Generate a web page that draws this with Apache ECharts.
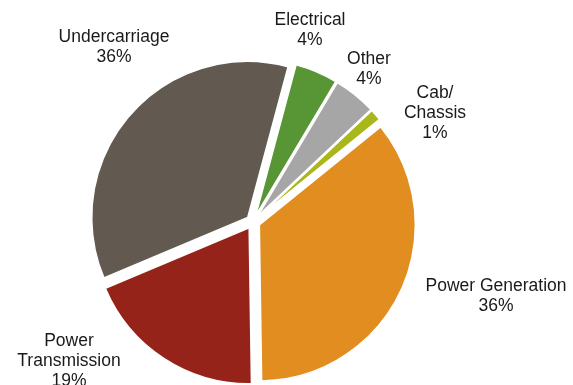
<!DOCTYPE html>
<html>
<head>
<meta charset="utf-8">
<script src="https://cdn.jsdelivr.net/npm/echarts@6/dist/echarts.min.js"></script>
<style>
html,body{margin:0;padding:0;background:#fff;}
#chart{width:573px;height:385px;}
</style>
</head>
<body>
<div id="chart"></div>
<script>
// Data (clockwise from just right of 12 o'clock)
const categories = ['Electrical', 'Other', 'Cab/Chassis', 'Power Generation', 'Power Transmission', 'Undercarriage'];
const labelTexts = ['Electrical', 'Other', 'Cab/\nChassis', 'Power Generation', 'Power\nTransmission', 'Undercarriage'];
const shares = [4.4, 4.4, 1.2, 35.6, 18.9, 35.5];

// Styles / layout
const colors = ['#579535', '#A6A6A6', '#A9B71A', '#E18D1F', '#952319', '#625A50'];
const labelPos = [[310, 30], [369, 69], [435, 113], [496, 296], [69, 361], [114, 47]];

const chart = echarts.init(document.getElementById('chart'), null, {renderer: 'canvas'});
const labelGraphics = categories.map(function (c, i) {
  return {
    type: 'text',
    x: labelPos[i][0],
    y: labelPos[i][1],
    silent: true,
    style: {
      text: labelTexts[i] + '\n' + Math.round(shares[i]) + '%',
      fontFamily: 'Liberation Sans, Arial, sans-serif',
      fontSize: 17.5,
      lineHeight: 20,
      fill: '#1a1a1a',
      align: 'center',
      verticalAlign: 'middle'
    }
  };
});
chart.setOption({
  animation: false,
  graphic: labelGraphics,
  series: [{
    type: 'pie',
    center: [253, 222],
    radius: 156,
    startAngle: 75,
    clockwise: true,
    avoidLabelOverlap: false,
    selectedMode: 'multiple',
    selectedOffset: 7,
    emphasis: {disabled: true},
    itemStyle: {borderColor: '#ffffff', borderWidth: 1.5},
    label: {show: false},
    labelLine: {show: false},
    data: categories.map(function (c, i) {
      return {name: c, value: shares[i], selected: true, itemStyle: {color: colors[i]}};
    })
  }]
});
</script>
</body>
</html>
